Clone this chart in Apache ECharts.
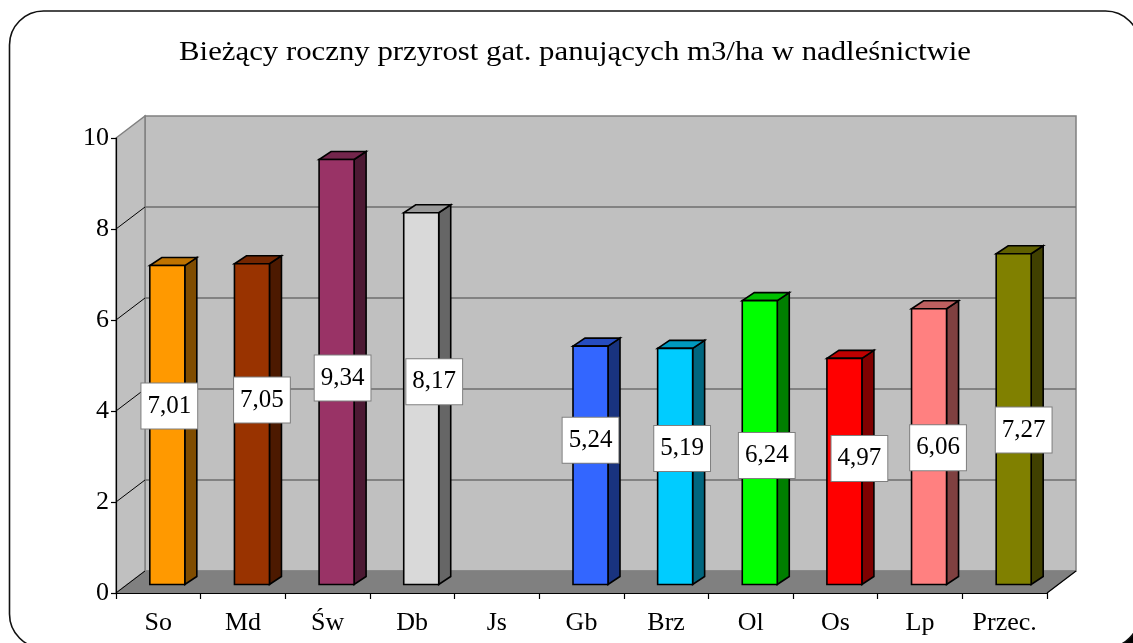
<!DOCTYPE html>
<html>
<head>
<meta charset="utf-8">
<script src="https://cdn.jsdelivr.net/npm/echarts@6/dist/echarts.min.js"></script>
<style>
  html, body { margin: 0; padding: 0; background: #fff; }
  #chart { width: 1133px; height: 643px; }
</style>
</head>
<body>
<div id="chart"></div>
<script>
// Species groups and their current annual increment (m3/ha)
const categories = ['So', 'Md', 'Św', 'Db', 'Js', 'Gb', 'Brz', 'Ol', 'Os', 'Lp', 'Przec.'];
const increment = [7.01, 7.05, 9.34, 8.17, null, 5.24, 5.19, 6.24, 4.97, 6.06, 7.27];
const yTicks = [0, 2, 4, 6, 8, 10];
const titleText = 'Bieżący roczny przyrost gat. panujących m3/ha w nadleśnictwie';

// Face colours of each column: front, top (shaded), right side (darker)
const frontColors = ['#FF9900', '#993300', '#993366', '#D9D9D9', '#000000', '#3366FF', '#00CCFF', '#00FF00', '#FF0000', '#FF8080', '#808000'];
const topColors   = ['#BF7300', '#732600', '#73264C', '#999999', '#000000', '#264CBF', '#0099BF', '#00BF00', '#BF0000', '#BF6060', '#606000'];
const sideColors  = ['#7F4C00', '#4C1900', '#4C1933', '#666666', '#000000', '#19337F', '#00667F', '#007F00', '#7F0000', '#7F4040', '#404000'];

// Hand-placed nudges of the value boxes (pixels)
const labelNudgeX = [11, 19, 15, 22, 0, 9, 16, 16, 24, 18, 19];
const labelNudgeY = [-19, -24, 6, -17, 0, -25, -18, 13, -13, 1, 11];

const SERIF = '"Liberation Serif", "Times New Roman", serif';
const DEPTH = { x: 29, y: 22 };               // depth of the walls / floor
const BAR = { left: -8.5, width: 35, lift: 8.5, dx: 12, dy: 8 };

const fmt = v => v.toFixed(2).replace('.', ',');

// Back wall, side wall, floor and the gridlines
function renderWalls(params, api) {
  const cs = params.coordSys;
  const x0 = cs.x, x1 = cs.x + cs.width;
  const yB = api.coord([0, yTicks[0]])[1];
  const yT = api.coord([0, yTicks[yTicks.length - 1]])[1];
  const dx = DEPTH.x, dy = DEPTH.y;
  const children = [];
  children.push({
    type: 'polygon',
    shape: { points: [[x0 + dx, yT - dy], [x1 + dx, yT - dy], [x1 + dx, yB - dy], [x0 + dx, yB - dy]] },
    style: { fill: '#C0C0C0', stroke: '#808080', lineWidth: 1.5 }
  });
  children.push({
    type: 'polygon',
    shape: { points: [[x0, yB], [x0, yT], [x0 + dx, yT - dy], [x0 + dx, yB - dy]] },
    style: { fill: '#C0C0C0', stroke: '#808080', lineWidth: 1.5 }
  });
  children.push({
    type: 'polygon',
    shape: { points: [[x0, yB], [x1, yB], [x1 + dx, yB - dy], [x0 + dx, yB - dy]] },
    style: { fill: '#808080', stroke: '#808080', lineWidth: 1 }
  });
  children.push({
    type: 'line',
    shape: { x1: x1, y1: yB, x2: x1 + dx, y2: yB - dy },
    style: { stroke: '#000', lineWidth: 1.2 }
  });
  yTicks.forEach((v, k) => {
    if (k === 0 || k === yTicks.length - 1) return;
    const y = api.coord([0, v])[1];
    children.push({
      type: 'line',
      shape: { x1: x0 + dx, y1: y - dy, x2: x1 + dx, y2: y - dy },
      style: { stroke: '#6E6E6E', lineWidth: 1.5 }
    });
    children.push({
      type: 'line',
      shape: { x1: x0, y1: y, x2: x0 + dx, y2: y - dy },
      style: { stroke: '#000', lineWidth: 1 }
    });
  });
  children.push({
    type: 'line',
    shape: { x1: x0, y1: yB, x2: x0 + dx, y2: yB - dy },
    style: { stroke: '#000', lineWidth: 1 }
  });
  return { type: 'group', children };
}

// One 3D-looking column with its value box
function renderBar(params, api) {
  const i = api.value(0);
  const v = api.value(1);
  const base = api.coord([i, 0]);
  const top = api.coord([i, v]);
  const L = base[0] + BAR.left;
  const R = L + BAR.width;
  const yb = base[1] - BAR.lift;
  const yt = top[1] - BAR.lift;
  const dx = BAR.dx, dy = BAR.dy;
  const stroke = { stroke: '#000', lineWidth: 1.6, lineJoin: 'miter' };
  const mid = api.coord([i, v / 2]);
  return {
    type: 'group',
    children: [
      { type: 'polygon', shape: { points: [[R, yt], [R + dx, yt - dy], [R + dx, yb - dy], [R, yb]] },
        style: Object.assign({ fill: sideColors[i] }, stroke) },
      { type: 'polygon', shape: { points: [[L, yt], [R, yt], [R + dx, yt - dy], [L + dx, yt - dy]] },
        style: Object.assign({ fill: topColors[i] }, stroke) },
      { type: 'polygon', shape: { points: [[L, yb], [L, yt], [R, yt], [R, yb]] },
        style: Object.assign({ fill: frontColors[i] }, stroke) },
      { type: 'text', z2: 10,
        x: base[0] + labelNudgeX[i], y: mid[1] - BAR.lift + labelNudgeY[i],
        style: {
          text: fmt(v), font: '25px ' + SERIF, fill: '#000',
          align: 'center', verticalAlign: 'middle', lineHeight: 25,
          backgroundColor: '#fff', borderColor: '#7F7F7F', borderWidth: 1,
          padding: [10, 6, 10, 6]
        } }
    ]
  };
}

const barData = [];
increment.forEach((v, i) => { if (v !== null) barData.push([i, v]); });

const chart = echarts.init(document.getElementById('chart'), null, { renderer: 'canvas' });
chart.setOption({
  backgroundColor: '#fff',
  animation: false,
  graphic: {
    elements: [
      { type: 'rect', z: -20, shape: { x: 15, y: 16, width: 1130, height: 637, r: 34 },
        style: { fill: '#000' } },
      { type: 'rect', z: -19, shape: { x: 9.5, y: 11, width: 1130, height: 637, r: 34 },
        style: { fill: '#fff', stroke: '#111', lineWidth: 1.6 } },
      // chart title, slightly widened like the original typesetting
      { type: 'text', z: 5, x: 575, y: 53, scaleX: 1.1, originX: 0, originY: 0,
        style: { text: titleText, font: '28px ' + SERIF, fill: '#000',
                 align: 'center', verticalAlign: 'middle' } }
    ]
  },
  grid: { left: 116, right: 86, top: 138, bottom: 50, containLabel: false },
  xAxis: {
    type: 'category',
    data: categories,
    z: 10,
    axisLine: { show: true, lineStyle: { color: '#000', width: 1.2 } },
    axisTick: { show: true, length: 6, lineStyle: { color: '#000', width: 1.2 } },
    axisLabel: { interval: 0, margin: 17, fontFamily: SERIF, fontSize: 26, color: '#000' },
    splitLine: { show: false }
  },
  yAxis: {
    type: 'value',
    min: 0, max: 10, interval: 2,
    z: 10,
    axisLine: { show: true, lineStyle: { color: '#000', width: 1.2 } },
    axisTick: { show: true, length: 5, lineStyle: { color: '#000', width: 1.2 } },
    axisLabel: { margin: 7, fontFamily: SERIF, fontSize: 26, color: '#000' },
    splitLine: { show: false }
  },
  series: [
    { type: 'custom', z: 1, silent: true, renderItem: renderWalls, data: [[0, 0]] },
    { type: 'custom', z: 3, silent: true, renderItem: renderBar, data: barData,
      encode: { x: 0, y: 1 } }
  ]
});
</script>
</body>
</html>
